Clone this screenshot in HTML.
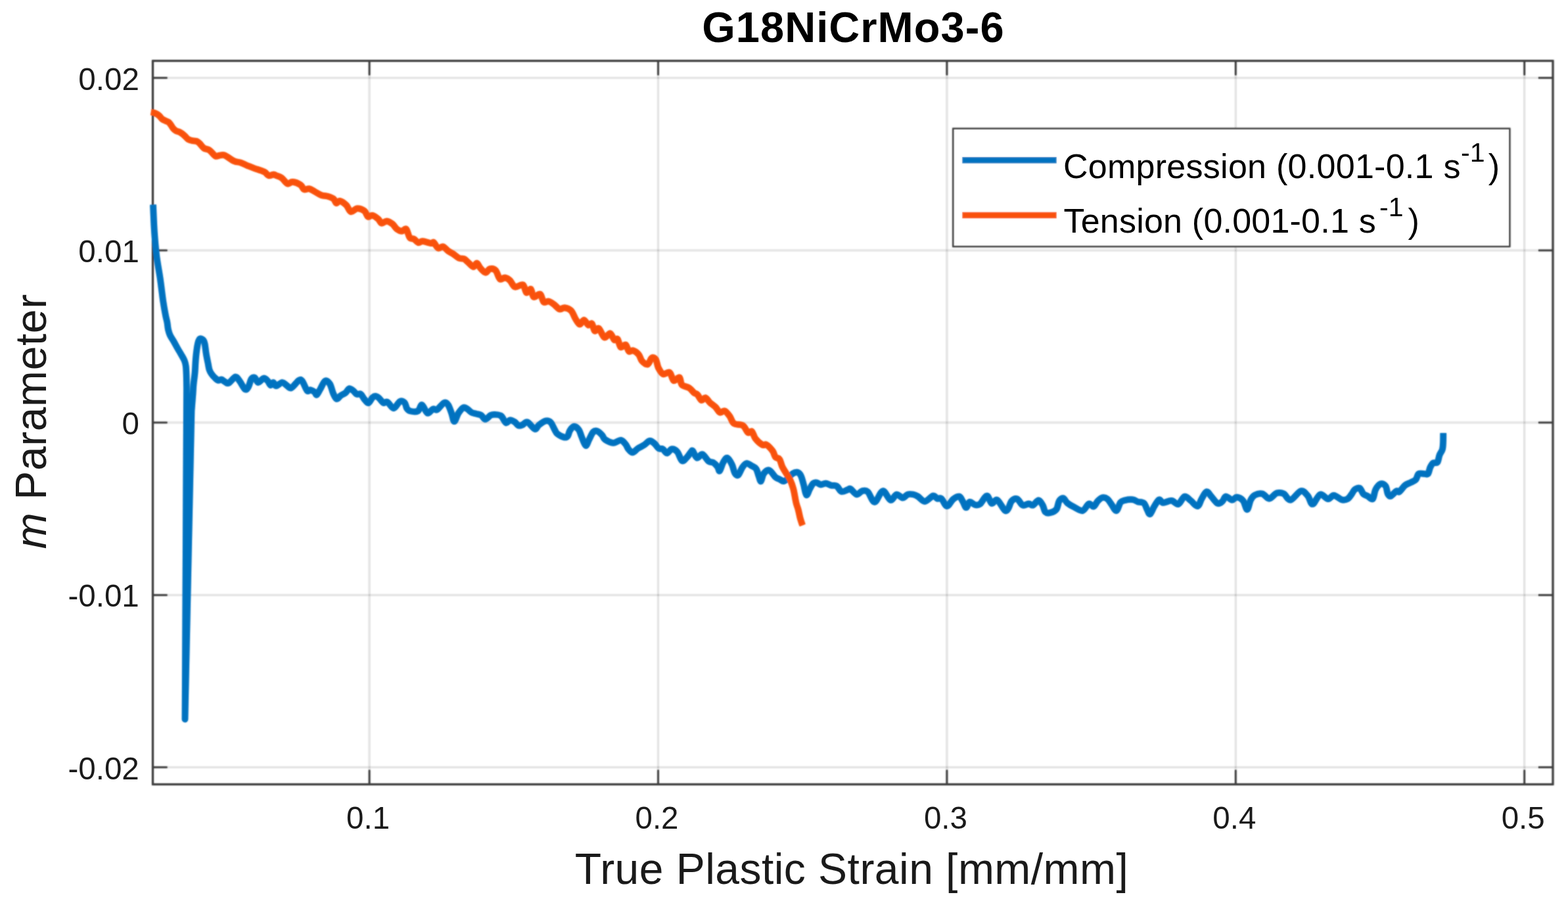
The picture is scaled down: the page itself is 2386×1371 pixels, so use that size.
<!DOCTYPE html>
<html><head><meta charset="utf-8"><style>
html,body{margin:0;padding:0;background:#fff;}
svg{display:block;}
text{font-family:"Liberation Sans",Arial,sans-serif;fill:#1a1a1a;}
.tk{font-size:47.5px;}
.lab{font-size:66px;}
.title{font-size:65px;font-weight:bold;fill:#000;}
.leg{font-size:52px;fill:#000;}
.sup{font-size:41px;fill:#000;}
</style></head><body>
<svg width="2386" height="1371" viewBox="0 0 2386 1371">
<rect width="2386" height="1371" fill="#fff"/>
<defs><filter id="bl" filterUnits="userSpaceOnUse" x="0" y="0" width="2386" height="1371"><feGaussianBlur stdDeviation="0.8"/></filter><g id="gfx"><line x1="562.1" y1="92.6" x2="562.1" y2="1193.5" stroke="#262626" stroke-opacity="0.10" stroke-width="3"/>
<line x1="1001.5" y1="92.6" x2="1001.5" y2="1193.5" stroke="#262626" stroke-opacity="0.10" stroke-width="3"/>
<line x1="1440.9" y1="92.6" x2="1440.9" y2="1193.5" stroke="#262626" stroke-opacity="0.10" stroke-width="3"/>
<line x1="1880.3" y1="92.6" x2="1880.3" y2="1193.5" stroke="#262626" stroke-opacity="0.10" stroke-width="3"/>
<line x1="2319.7" y1="92.6" x2="2319.7" y2="1193.5" stroke="#262626" stroke-opacity="0.10" stroke-width="3"/>
<line x1="232.5" y1="118.6" x2="2363.0" y2="118.6" stroke="#262626" stroke-opacity="0.10" stroke-width="3"/>
<line x1="232.5" y1="380.9" x2="2363.0" y2="380.9" stroke="#262626" stroke-opacity="0.10" stroke-width="3"/>
<line x1="232.5" y1="643.1" x2="2363.0" y2="643.1" stroke="#262626" stroke-opacity="0.10" stroke-width="3"/>
<line x1="232.5" y1="905.4" x2="2363.0" y2="905.4" stroke="#262626" stroke-opacity="0.10" stroke-width="3"/>
<line x1="232.5" y1="1167.6" x2="2363.0" y2="1167.6" stroke="#262626" stroke-opacity="0.10" stroke-width="3"/>
<path d="M562.1,1193.5V1171.5M562.1,92.6V114.6M1001.5,1193.5V1171.5M1001.5,92.6V114.6M1440.9,1193.5V1171.5M1440.9,92.6V114.6M1880.3,1193.5V1171.5M1880.3,92.6V114.6M2319.7,1193.5V1171.5M2319.7,92.6V114.6M232.5,118.6H254.5M2363.0,118.6H2341.0M232.5,380.9H254.5M2363.0,380.9H2341.0M232.5,643.1H254.5M2363.0,643.1H2341.0M232.5,905.4H254.5M2363.0,905.4H2341.0M232.5,1167.6H254.5M2363.0,1167.6H2341.0" stroke="#383838" stroke-width="2.5" fill="none"/>
<rect x="232.5" y="92.6" width="2130.5" height="1100.9" fill="none" stroke="#383838" stroke-width="2.8"/>
<g fill="none" stroke-linejoin="round" stroke-width="9.5">
<path d="M233.0,311.5 C233.3,318.5 234.1,340.8 235.0,353.7 C235.9,366.6 236.8,377.0 238.2,388.7 C239.6,400.4 242.0,412.0 243.7,423.7 C245.4,435.4 246.9,449.4 248.3,458.8 C249.7,468.2 251.0,474.8 252.0,480.0 C253.0,485.2 253.6,486.4 254.3,490.0 C255.0,493.6 255.2,498.3 256.0,501.7 C256.8,505.1 257.5,507.5 258.9,510.4 C260.3,513.3 262.3,516.0 264.2,519.2 C266.1,522.4 268.1,526.3 270.0,529.7 C271.9,533.1 274.1,536.5 275.8,539.6 C277.6,542.7 279.3,545.4 280.5,548.3 C281.7,551.2 282.3,553.5 282.8,557.1 C283.3,560.7 283.4,564.5 283.6,570.0 C283.8,575.5 283.9,586.7 284.0,590.0 L281.5,1094.5 L291.5,625.0 C291.8,620.8 293.0,606.7 293.5,600.0 C294.0,593.3 294.0,590.3 294.5,585.0 C295.0,579.7 295.9,574.3 296.5,568.0 C297.1,561.7 297.3,553.3 297.8,547.0 C298.3,540.7 299.0,534.7 299.7,530.0 C300.4,525.3 301.2,521.3 302.1,518.8 C303.0,516.3 303.9,515.3 305.2,515.2 C306.5,515.1 308.9,516.8 310.0,518.4 C311.1,520.0 311.2,521.5 311.9,525.0 C312.5,528.5 313.1,534.8 313.9,539.4 C314.7,544.0 315.7,548.7 316.5,552.5 C317.3,556.3 317.6,559.7 318.5,562.4 C319.4,565.1 320.4,566.8 321.8,568.9 C323.2,571.0 325.2,573.2 327.0,574.9 C328.8,576.5 330.7,578.4 332.3,578.8 C333.9,579.2 335.3,577.2 336.9,577.5 C338.5,577.8 340.3,579.9 342.1,580.8 C343.9,581.7 345.1,584.2 347.8,583.0 C350.5,581.8 355.5,574.0 358.3,573.5 C361.1,573.0 362.2,576.6 364.6,579.8 C367.1,582.9 370.7,591.0 373.0,592.4 C375.3,593.8 376.6,590.8 378.2,588.2 C379.8,585.6 380.8,579.0 382.4,576.7 C384.0,574.4 385.9,573.7 387.6,574.6 C389.4,575.5 390.6,581.7 392.9,581.9 C395.2,582.1 398.8,576.0 401.2,575.6 C403.6,575.2 405.8,578.0 407.5,579.8 C409.2,581.5 410.3,585.8 411.7,586.1 C413.1,586.5 414.5,581.7 415.9,581.9 C417.3,582.1 417.8,587.2 420.1,587.2 C422.4,587.2 426.9,582.1 429.5,581.9 C432.1,581.7 433.5,584.7 435.8,586.1 C438.1,587.5 440.1,591.5 443.2,590.3 C446.3,589.1 451.9,580.5 454.7,578.8 C457.5,577.0 457.8,577.2 459.9,579.8 C462.0,582.4 465.2,592.2 467.3,594.5 C469.4,596.8 470.6,593.0 472.5,593.4 C474.4,593.8 477.2,595.4 478.8,596.6 C480.4,597.8 480.5,601.5 481.9,600.8 C483.3,600.1 485.1,595.9 487.2,592.4 C489.3,588.9 492.1,581.2 494.5,579.8 C496.9,578.4 499.7,580.9 501.8,584.0 C503.9,587.1 505.4,594.9 507.1,598.7 C508.9,602.6 510.4,606.6 512.3,607.1 C514.2,607.6 516.3,603.4 518.6,601.8 C520.9,600.2 523.8,599.4 525.9,597.6 C528.0,595.9 529.3,591.8 531.2,591.3 C533.1,590.8 535.6,593.1 537.5,594.5 C539.4,595.9 540.8,598.8 542.7,599.7 C544.6,600.6 547.1,598.5 549.0,599.7 C550.9,600.9 552.3,604.8 554.2,607.1 C556.1,609.4 558.4,613.6 560.5,613.3 C562.6,612.9 564.9,606.7 566.8,605.0 C568.7,603.3 570.3,602.7 572.0,602.9 C573.7,603.1 575.1,604.3 577.0,606.0 C578.9,607.7 581.3,612.0 583.4,613.0 C585.5,614.0 587.1,610.5 589.7,611.9 C592.3,613.3 596.0,621.5 599.1,621.3 C602.2,621.1 605.7,612.3 608.5,610.9 C611.3,609.5 614.1,611.3 615.9,613.0 C617.6,614.7 617.6,619.2 619.0,621.3 C620.4,623.4 621.4,624.8 624.2,625.5 C627.0,626.2 632.8,627.1 635.8,625.5 C638.8,623.9 639.7,615.6 642.1,616.1 C644.5,616.6 647.6,627.7 650.4,628.7 C653.2,629.8 656.3,623.3 658.8,622.4 C661.2,621.5 662.3,625.0 665.1,623.4 C667.9,621.8 672.8,614.2 675.6,613.0 C678.4,611.8 680.0,613.5 681.9,616.1 C683.8,618.7 685.5,624.5 687.1,628.7 C688.7,632.9 689.5,641.2 691.3,641.2 C693.0,641.2 695.3,632.2 697.6,628.7 C699.9,625.2 702.6,621.3 704.9,620.3 C707.2,619.2 709.1,621.2 711.2,622.4 C713.3,623.6 715.2,626.4 717.5,627.6 C719.8,628.8 722.3,629.0 724.8,629.7 C727.2,630.4 729.9,630.4 732.2,631.8 C734.5,633.2 736.1,638.1 738.5,638.1 C740.9,638.1 744.4,633.0 746.8,631.8 C749.2,630.6 750.5,630.6 753.1,630.8 C755.7,631.0 759.7,630.8 762.5,632.9 C765.3,635.0 767.6,642.2 769.9,643.3 C772.2,644.3 773.9,639.4 776.2,639.2 C778.5,639.0 781.4,640.9 783.5,642.3 C785.6,643.7 786.8,646.8 788.7,647.5 C790.6,648.2 792.7,647.4 795.0,646.5 C797.3,645.6 799.2,641.2 802.4,642.3 C805.5,643.3 811.0,652.1 813.9,652.8 C816.8,653.5 817.2,648.8 820.0,646.7 C822.8,644.6 827.5,641.1 830.5,640.4 C833.5,639.7 835.5,640.2 837.8,642.5 C840.1,644.8 842.4,651.0 844.1,654.0 C845.9,657.0 845.8,658.4 848.3,660.3 C850.8,662.2 856.2,665.0 858.8,665.5 C861.4,666.0 862.6,665.1 864.0,663.4 C865.4,661.7 865.6,657.5 867.2,655.1 C868.8,652.7 871.1,649.0 873.4,648.8 C875.7,648.6 878.9,651.4 880.8,654.0 C882.7,656.6 883.3,660.5 885.0,664.5 C886.7,668.5 889.3,677.4 891.2,678.1 C893.1,678.8 894.6,672.2 896.5,668.7 C898.4,665.2 900.7,659.2 902.8,657.1 C904.9,655.0 906.8,655.2 909.1,656.1 C911.4,657.0 914.5,660.3 916.4,662.4 C918.3,664.5 917.8,666.8 920.6,668.7 C923.4,670.6 929.2,673.7 933.2,673.9 C937.2,674.1 941.6,669.4 944.7,669.7 C947.8,670.1 950.1,673.7 952.0,676.0 C953.9,678.3 954.5,681.2 956.2,683.3 C958.0,685.4 960.0,688.8 962.5,688.6 C965.0,688.4 967.9,684.2 970.9,682.3 C973.9,680.4 977.3,679.0 980.3,677.1 C983.3,675.2 986.1,671.1 988.7,670.8 C991.3,670.4 993.7,673.1 996.0,675.0 C998.3,676.9 1000.2,680.9 1002.3,682.3 C1004.4,683.7 1006.5,682.1 1008.6,683.3 C1010.7,684.5 1012.6,689.6 1014.9,689.6 C1017.2,689.6 1019.6,683.6 1022.2,683.3 C1024.8,682.9 1028.0,684.5 1030.6,687.5 C1033.2,690.5 1035.5,699.8 1037.9,701.2 C1040.4,702.6 1043.0,698.2 1045.3,695.9 C1047.6,693.6 1050.1,689.1 1051.6,687.5 C1053.1,685.9 1052.7,684.7 1054.2,686.2 C1055.7,687.7 1058.0,695.8 1060.5,696.7 C1063.0,697.6 1065.9,690.5 1068.9,691.4 C1071.9,692.3 1075.5,699.8 1078.3,701.9 C1081.1,704.0 1083.3,702.6 1085.6,704.0 C1087.9,705.4 1090.3,708.2 1091.9,710.3 C1093.5,712.4 1093.7,717.6 1095.1,716.6 C1096.5,715.6 1098.4,707.3 1100.3,704.0 C1102.2,700.7 1104.3,696.2 1106.6,696.7 C1108.9,697.2 1112.0,703.3 1113.9,707.1 C1115.8,710.9 1116.5,717.1 1118.1,719.7 C1119.7,722.3 1121.4,724.3 1123.3,722.9 C1125.2,721.5 1127.5,714.3 1129.6,711.3 C1131.7,708.3 1133.5,705.5 1135.9,705.1 C1138.4,704.8 1141.8,707.8 1144.3,709.2 C1146.8,710.6 1148.8,710.8 1150.6,713.4 C1152.3,716.0 1153.6,721.9 1154.8,725.0 C1156.0,728.1 1156.7,733.0 1157.9,732.3 C1159.1,731.6 1160.0,723.6 1162.1,720.8 C1164.2,718.0 1167.5,714.6 1170.5,715.5 C1173.5,716.4 1177.3,723.7 1179.9,726.0 C1182.5,728.3 1184.1,728.2 1186.2,729.2 C1188.3,730.2 1190.4,732.5 1192.5,732.3 C1194.6,732.1 1196.5,730.0 1198.8,728.1 C1201.1,726.2 1203.6,722.4 1206.1,720.8 C1208.5,719.2 1211.4,718.2 1213.5,718.7 C1215.6,719.2 1217.1,720.8 1218.7,723.9 C1220.3,727.0 1221.5,732.6 1222.9,737.5 C1224.3,742.4 1225.5,752.2 1227.1,753.3 C1228.7,754.3 1230.5,746.8 1232.3,743.8 C1234.0,740.8 1235.8,737.0 1237.6,735.4 C1239.3,733.8 1240.9,734.0 1242.8,734.4 C1244.7,734.8 1246.8,737.3 1249.1,737.5 C1251.4,737.7 1253.8,735.2 1256.4,735.4 C1259.0,735.6 1262.0,737.9 1264.8,738.6 C1267.6,739.3 1270.6,738.0 1273.2,739.6 C1275.8,741.2 1277.7,747.1 1280.5,748.0 C1283.3,748.9 1287.7,745.8 1290.0,745.1 C1292.3,744.4 1291.9,742.8 1294.2,744.0 C1296.5,745.2 1300.6,751.9 1303.6,752.4 C1306.6,752.9 1309.2,747.8 1312.0,747.1 C1314.8,746.4 1317.2,745.4 1320.4,748.2 C1323.6,751.0 1327.1,764.1 1330.9,763.9 C1334.7,763.7 1339.4,747.6 1343.4,747.1 C1347.4,746.6 1351.5,759.9 1355.0,760.8 C1358.5,761.7 1361.3,752.9 1364.4,752.4 C1367.5,751.9 1371.0,757.6 1373.8,757.6 C1376.6,757.6 1378.6,753.3 1381.2,752.4 C1383.8,751.5 1386.9,751.9 1389.5,752.4 C1392.1,752.9 1393.9,753.8 1396.9,755.5 C1399.9,757.2 1403.6,763.1 1407.4,762.9 C1411.2,762.7 1416.8,755.2 1419.9,754.5 C1423.0,753.8 1424.1,758.0 1426.2,758.7 C1428.3,759.4 1430.0,756.8 1432.5,758.7 C1435.0,760.6 1437.9,770.0 1440.9,770.2 C1443.9,770.4 1447.2,762.2 1450.3,759.7 C1453.4,757.2 1457.2,755.0 1459.7,755.5 C1462.2,756.0 1463.2,760.1 1465.0,762.9 C1466.8,765.7 1468.5,772.1 1470.2,772.3 C1472.0,772.5 1473.2,764.6 1475.5,763.9 C1477.8,763.2 1481.2,767.6 1483.8,768.1 C1486.4,768.6 1488.2,769.4 1491.2,767.1 C1494.2,764.8 1498.7,754.7 1501.7,754.5 C1504.7,754.3 1506.4,765.0 1509.0,766.0 C1511.6,767.0 1514.1,759.0 1517.4,760.8 C1520.7,762.5 1526.1,774.3 1528.9,776.5 C1531.7,778.7 1532.5,776.2 1534.2,773.9 C1536.0,771.5 1537.1,764.8 1539.4,762.4 C1541.7,760.0 1545.0,758.2 1547.8,759.2 C1550.6,760.2 1553.2,767.5 1556.2,768.7 C1559.2,769.9 1563.0,766.6 1565.6,766.6 C1568.2,766.6 1569.5,769.6 1571.9,768.7 C1574.4,767.8 1577.8,761.3 1580.3,761.3 C1582.8,761.3 1584.8,765.7 1586.6,768.7 C1588.3,771.7 1588.9,777.3 1590.8,779.2 C1592.7,781.1 1595.3,780.9 1598.1,780.2 C1600.9,779.5 1605.2,778.0 1607.5,775.0 C1609.8,772.0 1610.0,765.2 1611.7,762.4 C1613.5,759.6 1615.9,757.7 1618.0,758.2 C1620.1,758.7 1621.5,763.2 1624.3,765.5 C1627.1,767.8 1630.9,769.9 1634.8,771.8 C1638.7,773.7 1643.7,778.0 1647.4,777.1 C1651.1,776.2 1654.0,767.7 1656.8,766.6 C1659.6,765.5 1661.8,771.5 1664.1,770.8 C1666.4,770.1 1668.1,764.7 1670.4,762.4 C1672.7,760.1 1675.2,757.7 1677.7,757.2 C1680.2,756.7 1682.8,757.5 1685.1,759.2 C1687.4,760.9 1689.1,764.6 1691.4,767.6 C1693.7,770.6 1696.4,777.6 1698.7,777.1 C1701.0,776.6 1702.9,767.1 1705.0,764.5 C1707.1,761.9 1708.2,762.0 1711.3,761.3 C1714.4,760.6 1720.5,759.9 1723.8,760.3 C1727.1,760.6 1728.4,762.5 1731.2,763.4 C1734.0,764.3 1738.2,763.4 1740.6,765.5 C1743.0,767.6 1744.2,773.2 1745.8,776.0 C1747.4,778.8 1748.2,783.2 1750.0,782.3 C1751.8,781.4 1754.0,774.5 1756.3,770.8 C1758.6,767.1 1761.4,761.3 1763.7,760.3 C1766.0,759.3 1766.8,764.8 1770.0,765.0 C1773.2,765.2 1778.8,761.4 1782.6,761.8 C1786.4,762.1 1789.7,768.1 1793.0,767.1 C1796.3,766.1 1799.3,756.4 1802.5,755.5 C1805.7,754.6 1808.6,759.3 1811.9,761.8 C1815.2,764.2 1819.6,770.7 1822.4,770.2 C1825.2,769.7 1826.4,762.4 1828.7,758.7 C1831.0,755.0 1833.6,748.7 1836.0,748.2 C1838.4,747.7 1840.5,752.5 1843.3,755.5 C1846.1,758.5 1850.0,764.8 1852.8,766.0 C1855.6,767.2 1858.0,764.6 1860.1,762.9 C1862.2,761.1 1862.8,755.9 1865.3,755.5 C1867.8,755.1 1872.0,760.6 1874.8,760.8 C1877.6,761.0 1879.3,756.4 1882.1,756.6 C1884.9,756.8 1888.9,758.7 1891.5,761.8 C1894.1,764.9 1895.9,775.6 1897.8,775.4 C1899.7,775.2 1901.2,764.5 1903.1,760.8 C1905.0,757.1 1906.4,755.0 1909.4,753.4 C1912.4,751.8 1917.2,750.4 1920.9,751.3 C1924.6,752.2 1927.7,758.9 1931.4,758.7 C1935.1,758.5 1939.2,751.5 1942.9,750.3 C1946.6,749.1 1949.9,749.5 1953.4,751.3 C1956.9,753.0 1959.4,761.5 1963.8,760.8 C1968.2,760.1 1975.2,748.1 1979.6,747.1 C1984.0,746.1 1987.0,751.2 1990.0,754.5 C1993.0,757.8 1994.2,767.5 1997.4,767.1 C2000.6,766.8 2005.0,753.7 2008.9,752.4 C2012.8,751.1 2017.4,759.1 2020.9,759.3 C2024.4,759.5 2026.2,753.6 2029.7,753.8 C2033.2,754.0 2038.2,759.4 2041.7,760.3 C2045.2,761.2 2048.0,760.8 2050.5,759.3 C2053.1,757.8 2055.2,754.0 2057.0,751.6 C2058.8,749.2 2059.4,746.5 2061.4,745.0 C2063.4,743.5 2066.9,741.7 2069.1,742.8 C2071.3,743.9 2072.6,749.6 2074.6,751.6 C2076.6,753.6 2078.7,753.6 2081.1,754.9 C2083.5,756.2 2086.8,760.9 2088.8,759.3 C2090.8,757.6 2091.2,748.8 2093.2,745.0 C2095.2,741.2 2098.2,737.2 2100.8,736.3 C2103.4,735.4 2106.7,737.0 2108.5,739.6 C2110.3,742.2 2110.5,749.1 2111.8,751.6 C2113.1,754.1 2113.9,755.6 2116.1,754.9 C2118.3,754.2 2122.7,748.3 2124.9,747.2 C2127.1,746.1 2127.1,749.8 2129.3,748.3 C2131.5,746.8 2135.1,740.9 2138.0,738.5 C2140.9,736.1 2144.1,735.6 2146.8,734.1 C2149.5,732.6 2152.4,731.9 2154.4,729.7 C2156.4,727.5 2156.6,722.5 2158.8,721.0 C2161.0,719.5 2165.1,721.0 2167.5,721.0 C2169.9,721.0 2171.5,722.6 2173.0,721.0 C2174.5,719.4 2175.0,713.8 2176.3,711.1 C2177.6,708.4 2178.9,705.9 2180.7,704.6 C2182.5,703.3 2185.6,705.5 2187.2,703.5 C2188.8,701.5 2189.2,695.8 2190.5,692.5 C2191.8,689.2 2194.0,687.1 2194.9,683.8 C2195.8,680.5 2195.8,676.9 2196.0,672.8 C2196.2,668.7 2196.2,661.3 2196.2,659.0" stroke="#0072c0"/>
<path d="M229.8,170.6 C230.4,170.7 232.1,171.0 233.5,171.4 C234.9,171.8 236.6,172.4 238.1,173.2 C239.6,174.0 241.0,175.0 242.5,176.3 C244.0,177.7 245.3,180.0 246.9,181.3 C248.5,182.6 250.5,183.2 252.1,183.9 C253.7,184.7 255.2,184.8 256.5,185.8 C257.8,186.8 258.8,188.4 260.0,190.0 C261.2,191.6 262.2,193.8 263.5,195.3 C264.8,196.8 266.3,198.3 267.9,199.2 C269.5,200.1 271.5,200.1 273.1,200.8 C274.7,201.5 276.0,202.5 277.5,203.6 C279.0,204.7 280.4,206.1 281.9,207.5 C283.4,208.9 284.5,210.8 286.3,211.9 C288.1,213.0 290.6,213.7 292.8,214.2 C295.0,214.7 297.5,214.3 299.4,215.0 C301.3,215.7 302.2,216.8 304.0,218.5 C305.8,220.2 307.8,223.8 310.3,225.5 C312.8,227.2 316.2,226.8 319.1,228.8 C322.0,230.8 325.2,236.2 327.8,237.5 C330.4,238.8 332.0,236.6 334.4,236.4 C336.8,236.2 338.4,234.9 342.0,236.4 C345.6,237.9 352.3,243.4 356.3,245.2 C360.3,247.0 362.8,246.3 366.1,247.4 C369.4,248.5 372.5,250.4 376.0,251.8 C379.5,253.2 382.5,254.5 386.9,256.1 C391.3,257.7 398.5,259.8 402.2,261.6 C405.9,263.4 406.4,266.5 408.8,267.1 C411.2,267.7 414.6,265.4 416.5,265.4 C418.4,265.4 417.9,266.1 420.0,267.0 C422.1,267.9 425.9,268.7 428.8,270.8 C431.7,272.9 434.8,278.5 437.5,279.5 C440.2,280.5 441.9,276.5 445.2,276.8 C448.5,277.1 454.3,279.3 457.2,281.2 C460.1,283.1 460.5,287.3 462.7,288.3 C464.9,289.3 467.6,286.6 470.3,287.2 C473.0,287.8 476.0,290.0 479.1,291.6 C482.2,293.2 485.6,295.8 488.9,297.0 C492.2,298.2 495.7,297.8 498.8,298.7 C501.9,299.6 505.3,300.8 507.5,302.5 C509.7,304.2 510.2,308.6 511.9,309.1 C513.5,309.7 514.8,305.2 517.4,305.8 C520.0,306.4 524.5,309.7 527.2,312.4 C529.9,315.1 531.1,321.4 533.8,322.2 C536.5,323.0 540.1,317.5 543.6,317.3 C547.1,317.1 551.9,319.0 554.6,321.1 C557.3,323.2 558.0,328.8 560.0,329.9 C562.0,331.0 564.0,327.1 566.6,327.7 C569.2,328.2 573.0,331.2 575.4,333.2 C577.8,335.2 578.6,339.2 580.8,339.7 C583.0,340.2 585.8,336.2 588.5,336.4 C591.2,336.6 594.7,338.8 597.2,340.8 C599.8,342.8 601.4,346.7 603.8,348.5 C606.2,350.3 609.1,351.8 611.5,351.8 C613.9,351.8 616.0,346.9 618.0,348.5 C620.0,350.1 621.5,359.1 623.5,361.6 C625.5,364.2 627.9,362.5 630.1,363.8 C632.3,365.1 634.4,368.8 636.6,369.3 C638.8,369.9 639.9,366.9 643.2,367.1 C646.5,367.3 653.5,370.0 656.3,370.3 C659.1,370.6 658.3,367.6 660.0,368.8 C661.7,370.0 664.2,376.4 666.6,377.5 C669.0,378.6 671.7,374.6 674.2,375.3 C676.8,376.0 679.4,380.1 681.9,381.9 C684.4,383.7 686.8,384.5 689.5,386.3 C692.2,388.1 695.5,391.5 698.3,392.8 C701.0,394.1 703.8,393.0 706.0,393.9 C708.2,394.8 709.0,396.3 711.4,398.3 C713.8,400.3 717.8,405.6 720.2,406.0 C722.6,406.4 723.8,400.1 725.6,400.5 C727.4,400.9 728.9,405.7 731.1,408.1 C733.3,410.5 736.4,414.5 738.8,414.7 C741.2,414.9 742.8,409.8 745.3,409.2 C747.8,408.6 751.5,408.8 754.1,411.4 C756.7,414.0 758.3,422.8 760.7,424.6 C763.1,426.4 765.8,422.0 768.3,422.4 C770.8,422.8 773.5,424.3 776.0,426.7 C778.5,429.1 780.3,435.5 783.6,436.6 C786.9,437.7 792.8,431.9 795.7,433.3 C798.6,434.8 799.1,444.2 801.1,445.3 C803.1,446.4 805.9,438.8 807.7,439.9 C809.5,441.0 809.7,450.6 812.1,451.9 C814.5,453.2 819.4,446.2 821.9,447.5 C824.4,448.8 825.2,457.8 827.4,459.6 C829.6,461.4 832.4,457.8 835.1,458.5 C837.8,459.2 841.1,461.9 843.8,463.9 C846.5,465.9 849.0,469.8 851.5,470.5 C854.0,471.2 856.2,467.9 859.1,468.3 C862.0,468.7 866.3,470.0 869.0,472.7 C871.7,475.4 873.3,481.2 875.5,484.7 C877.7,488.2 879.9,493.1 882.1,493.5 C884.3,493.9 886.5,486.7 888.7,486.9 C890.9,487.1 893.2,493.7 895.2,494.6 C897.2,495.5 899.1,490.9 900.7,492.4 C902.3,493.9 903.2,502.4 905.0,503.6 C906.8,504.8 908.7,498.2 911.2,499.8 C913.7,501.4 916.9,512.2 919.8,513.5 C922.7,514.8 926.0,506.7 928.5,507.3 C931.0,507.9 932.8,515.8 934.7,517.2 C936.6,518.7 938.1,514.1 939.7,516.0 C941.4,517.9 942.5,527.0 944.6,528.4 C946.7,529.8 950.0,523.6 952.1,524.6 C954.2,525.6 955.1,533.2 957.0,534.6 C958.9,536.0 960.7,532.5 963.2,533.3 C965.7,534.1 969.6,536.8 971.9,539.5 C974.2,542.2 974.6,546.9 976.9,549.4 C979.2,551.9 983.1,555.2 985.6,554.4 C988.1,553.6 989.7,545.7 991.8,544.5 C993.9,543.3 996.4,544.5 998.0,547.0 C999.6,549.5 999.9,555.7 1001.7,559.4 C1003.6,563.1 1006.2,568.1 1009.1,569.3 C1012.0,570.5 1016.3,565.1 1019.0,566.8 C1021.7,568.4 1022.7,578.0 1025.2,579.2 C1027.7,580.4 1031.8,573.2 1033.9,574.2 C1036.0,575.2 1035.1,582.7 1037.6,585.4 C1040.1,588.1 1045.7,588.3 1048.8,590.4 C1051.9,592.5 1054.1,596.1 1056.2,597.8 C1058.3,599.4 1059.3,598.4 1061.2,600.3 C1063.1,602.2 1065.3,608.2 1067.4,609.0 C1069.5,609.8 1071.5,604.7 1073.6,605.2 C1075.7,605.8 1077.4,609.8 1080.0,612.3 C1082.6,614.8 1086.7,617.3 1089.2,619.9 C1091.8,622.5 1093.0,626.7 1095.3,627.6 C1097.6,628.5 1100.5,624.3 1103.0,625.3 C1105.5,626.3 1108.3,630.5 1110.6,633.7 C1112.9,636.9 1113.5,642.1 1116.8,644.4 C1120.1,646.7 1126.9,645.2 1130.5,647.5 C1134.1,649.8 1135.9,656.7 1138.2,658.2 C1140.5,659.7 1142.4,655.2 1144.3,656.7 C1146.2,658.2 1146.9,663.9 1149.5,667.3 C1152.1,670.6 1157.2,675.2 1160.0,676.8 C1162.8,678.4 1163.7,675.2 1166.3,676.8 C1168.9,678.4 1173.4,683.1 1175.7,686.2 C1178.0,689.3 1178.2,693.5 1180.0,695.6 C1181.8,697.7 1184.5,696.3 1186.2,698.8 C1187.9,701.2 1188.7,706.6 1190.4,710.3 C1192.2,714.0 1194.8,717.6 1196.7,720.8 C1198.6,723.9 1200.2,725.4 1201.9,729.2 C1203.7,733.0 1205.6,737.9 1207.2,743.8 C1208.8,749.7 1210.1,759.4 1211.4,764.8 C1212.7,770.2 1213.8,772.1 1214.8,776.0 C1215.8,779.9 1216.6,784.7 1217.5,788.0 C1218.4,791.3 1219.4,794.1 1220.0,796.0 C1220.6,797.9 1221.1,798.7 1221.3,799.2" stroke="#f95109"/>
</g>
<rect x="1450.4" y="195.8" width="846.7999999999997" height="179.2" fill="#fff" stroke="#383838" stroke-width="2.4"/>
<line x1="1464.3" y1="243.7" x2="1607.7" y2="243.7" stroke="#0072c0" stroke-width="9.5"/>
<line x1="1464.3" y1="327.6" x2="1607.7" y2="327.6" stroke="#f95109" stroke-width="9.5"/></g></defs>
<use href="#gfx" filter="url(#bl)"/>
<use href="#gfx" opacity="0.45"/>
<text x="560.1" y="1260.5" text-anchor="middle" class="tk">0.1</text>
<text x="999.5" y="1260.5" text-anchor="middle" class="tk">0.2</text>
<text x="1438.9" y="1260.5" text-anchor="middle" class="tk">0.3</text>
<text x="1878.3" y="1260.5" text-anchor="middle" class="tk">0.4</text>
<text x="2317.7" y="1260.5" text-anchor="middle" class="tk">0.5</text>
<text x="211.8" y="136.6" text-anchor="end" class="tk">0.02</text>
<text x="211.8" y="398.9" text-anchor="end" class="tk">0.01</text>
<text x="211.8" y="661.1" text-anchor="end" class="tk">0</text>
<text x="211.8" y="923.4" text-anchor="end" class="tk">-0.01</text>
<text x="211.8" y="1185.6" text-anchor="end" class="tk">-0.02</text>
<text x="1295.8" y="1344.5" text-anchor="middle" textLength="842" lengthAdjust="spacing" class="lab">True Plastic Strain [mm/mm]</text>
<text transform="translate(69.8,641.5) rotate(-90)" text-anchor="middle" textLength="387.3" lengthAdjust="spacing" class="lab"><tspan font-style="italic">m</tspan> Parameter</text>
<text x="1297.9" y="64" text-anchor="middle" textLength="459.5" lengthAdjust="spacing" class="title">G18NiCrMo3-6</text>
<text x="1617.9" y="271" textLength="604.6" lengthAdjust="spacing" class="leg">Compression (0.001-0.1 s</text>
<text x="2223" y="246" class="sup">-1</text>
<text x="2264.7" y="271" class="leg">)</text>
<text x="1618.5" y="354.2" textLength="475.2" lengthAdjust="spacing" class="leg">Tension (0.001-0.1 s</text>
<text x="2099" y="329" class="sup">-1</text>
<text x="2142.6" y="354.2" class="leg">)</text>
</svg>
</body></html>
